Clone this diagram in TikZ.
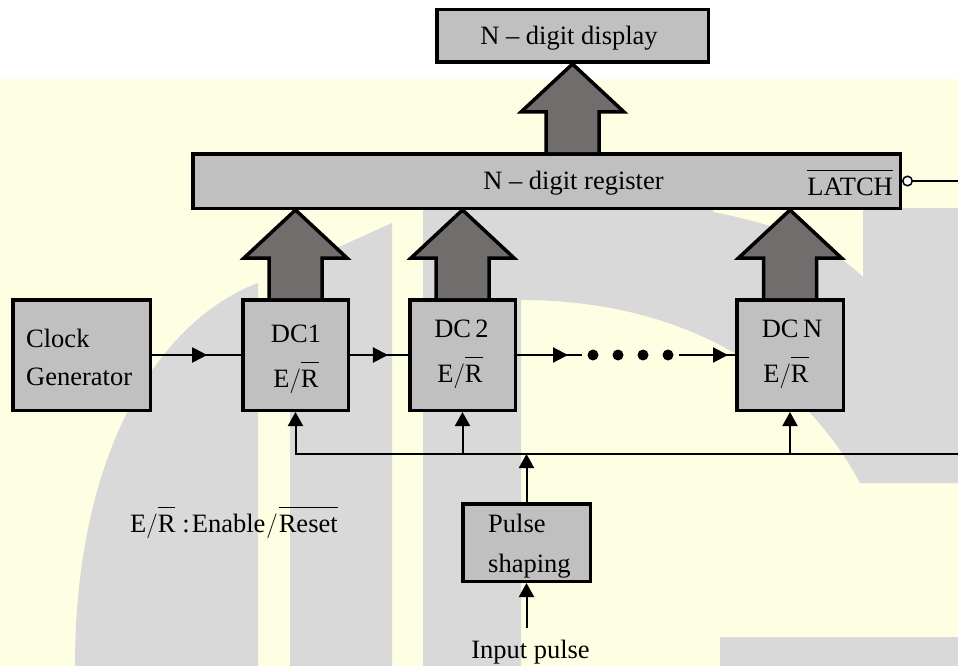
\documentclass[tikz,border=0pt]{standalone}
\usepackage{fontspec}
\setmainfont{Liberation Serif}
\usetikzlibrary{arrows.meta,calc,decorations.markings}
\definecolor{bgyellow}{RGB}{254,254,226}
\definecolor{wmgray}{RGB}{217,217,217}
\definecolor{boxgray}{RGB}{192,192,192}
\definecolor{arrgray}{RGB}{114,109,109}
\newcommand\myovl[1]{\vbox{\hrule height 1pt\kern 6.5pt\hbox{#1}}}
\newcommand\fatarrow[2]{\filldraw[fatarr] ($(#1)+(-26.5,0)$) -- ($(#2)+(-26.5,48)$) -- ($(#2)+(-51.5,48)$) -- (#2) -- ($(#2)+(51.5,48)$) -- ($(#2)+(26.5,48)$) -- ($(#1)+(26.5,0)$);}
\begin{document}
\begin{tikzpicture}[x=1pt,y=-1pt,
  blk/.style={draw, line width=3.5pt, fill=boxgray, inner sep=0pt},
  lbl/.style={inner sep=0pt, font=\fontsize{26.5}{30}\selectfont},
  conn/.style={line width=2pt},
  tip/.style={-{Triangle[length=14pt,width=15pt]}},
  fatarr/.style={line width=3.5pt, fill=arrgray, line join=miter},
  dot/.style={circle, fill=black, inner sep=0pt, minimum size=11pt},
  midarr/.style={postaction={decorate}, decoration={markings, mark=at position #1 with {\arrow{Triangle[length=15pt,width=15pt]}}}}]
\useasboundingbox (0,0) rectangle (958,666);
% background
\fill[white] (0,0) rectangle (958,79);
\fill[bgyellow] (0,79) rectangle (958,666);
% watermark
\fill[wmgray] (75,666) .. controls (75,450) and (160,320) .. (258,283) -- (258,666) -- cycle;
\fill[wmgray] (290,666) -- (290,269) -- (392,223) -- (392,666) -- cycle;
\fill[wmgray] (423,666) -- (423,200) -- (713,200) -- (713,212) .. controls (780,225) and (830,245) .. (863,277) -- (863,208) -- (958,208) -- (958,483) -- (860,483) .. controls (800,370) and (680,300) .. (521,300) -- (521,666) -- cycle;
\fill[wmgray] (720,637) rectangle (958,666);
% boxes
\node[blk, minimum width=271.5pt, minimum height=52.5pt] (disp) at (572.5,36) {};
\node[blk, minimum width=707.5pt, minimum height=54.5pt] (reg) at (546.5,181) {};
\node[blk, minimum width=137.5pt, minimum height=110.5pt] (clk) at (81.5,355) {};
\node[blk, minimum width=105.5pt, minimum height=110.5pt] (dc1) at (295.5,355) {};
\node[blk, minimum width=105.5pt, minimum height=110.5pt] (dc2) at (462.5,355) {};
\node[blk, minimum width=106.5pt, minimum height=110.5pt] (dcn) at (790,355) {};
\node[blk, minimum width=127.5pt, minimum height=77.5pt] (pulse) at (526.5,542.5) {};
% labels
\node[lbl, anchor=base] (dispT) at (569,45) {N – digit display};
\node[lbl, anchor=base] (regT) at (573.5,189) {N – digit register};
\node[lbl, anchor=base east] (latchT) at (893,195) {\myovl{LATCH}};
\node[lbl, anchor=base west] (clkT1) at (26,347) {Clock};
\node[lbl, anchor=base west] (clkT2) at (26,385) {Generator};
\node[lbl, anchor=base] (dc1T1) at (296,342) {DC1};
\node[lbl, anchor=base] (dc1T2) at (296,387) {E$/$\myovl{R}};
\node[lbl, anchor=base] (dc2T1) at (461.5,337) {DC\,2};
\node[lbl, anchor=base] (dc2T2) at (460,382) {E$/$\myovl{R}};
\node[lbl, anchor=base] (dcnT1) at (792,337) {DC\,N};
\node[lbl, anchor=base] (dcnT2) at (786,382) {E$/$\myovl{R}};
\node[lbl, anchor=base west] (pulT1) at (488,532) {Pulse};
\node[lbl, anchor=base west] (pulT2) at (488,572) {shaping};
\node[lbl, anchor=base] (inp) at (530.5,658) {Input pulse};
\node[lbl, anchor=base west] (leg) at (130,532) {E$/$\myovl{R}\kern7pt:\kern2pt Enable\kern1pt$/$\kern1pt\myovl{Reset}};
% fat arrows
\fatarrow{dc1.north}{dc1.north |- reg.south}
\fatarrow{dc2.north}{dc2.north |- reg.south}
\fatarrow{dcn.north}{dcn.north |- reg.south}
\fatarrow{reg.north -| disp.south}{disp.south}
% latch bubble
\node[circle, draw, fill=white, line width=1.5pt, minimum size=9.5pt, inner sep=0pt] (bub) at (907.5,181) {};
\coordinate (latchR) at (958,181);
\draw[conn] (bub.east) -- (latchR);
% clock chain
\node[dot] (p1) at (593,355) {};
\node[dot] (p2) at (618,355) {};
\node[dot] (p3) at (643,355) {};
\node[dot] (p4) at (668,355) {};
\coordinate (dotsL) at (582,355);
\coordinate (dotsR) at (679,355);
\draw[conn, midarr=0.62] (clk.east) -- (dc1.west);
\draw[conn, midarr=0.655] (dc1.east) -- (dc2.west);
\draw[conn, midarr=0.785] (dc2.east) -- (dotsL);
\draw[conn, midarr=0.875] (dotsR) -- (dcn.west);
% reset bus
\coordinate (busL) at (295.5,454);
\coordinate (busR) at (958,454);
\draw[conn, tip] (busR) -- (busL) -- (dc1.south);
\draw[conn, tip] (dc2.south |- busL) -- (dc2.south);
\draw[conn, tip] (dcn.south |- busL) -- (dcn.south);
\draw[conn, tip] (pulse.north) -- (pulse.north |- busL);
\coordinate (inTop) at (526.5,628);
\draw[conn, tip] (inTop) -- (pulse.south);
\end{tikzpicture}
\end{document}
